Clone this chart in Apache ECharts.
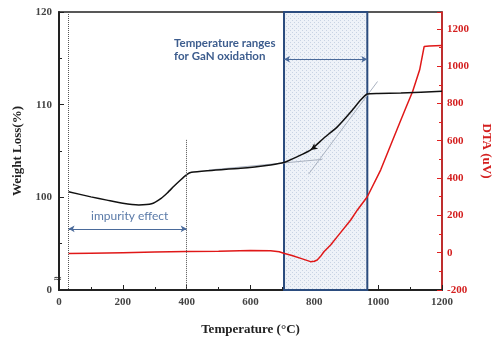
<!DOCTYPE html>
<html><head><meta charset="utf-8">
<script src="https://cdn.jsdelivr.net/npm/echarts@6/dist/echarts.min.js"></script>
<style>html,body{margin:0;padding:0;background:#fff}#c{width:496px;height:338px}</style>
</head><body><div id="c"></div>
<script>
// Weight loss curve (left axis, %; bottom of axis 90 is shown as "0" with a break)
const weightT = [30,100,150,200,250,290,320,340,360,380,400,415,464,569,663,704,747,788,830,872,914,945,966,1000,1071,1200];
const weightV = [100.6,100.05,99.7,99.35,99.18,99.3,99.9,100.5,101.2,101.85,102.45,102.7,102.88,103.13,103.5,103.75,104.4,105.1,106.4,107.6,109.2,110.5,111.15,111.2,111.25,111.45];
// DTA curve (right axis, uV)
const dtaT = [30,100,200,300,400,500,600,663,690,704,730,760,788,800,809,819,830,851,872,914,935,966,1008,1040,1066,1090,1108,1130,1144,1160,1200];
const dtaV = [-5,-3,0,3,6,8,12,11,5,-3,-15,-32,-48,-46,-39,-21,5,41,86,175,229,300,444,580,690,790,864,980,1105,1108,1110];
// tangent construction lines
const tangentBaseT = [470,825];
const tangentBaseV = [102.95,104.1];
const tangentSteepT = [782,998];
const tangentSteepV = [102.5,112.5];
// annotation ranges
const impurityRange = [30,400];
const oxidationRange = [705,966];
const xTicks = {min:0,max:1200,interval:200};
const leftTicks = {min:90,max:120,interval:10};
const rightTicks = {min:-200,max:1290,interval:200};

const zip = (a,b)=>a.map((t,i)=>[t,b[i]]);

// stippled fill for oxidation box
const pc = document.createElement('canvas');
pc.width = 4; pc.height = 4;
const g = pc.getContext('2d');
g.fillStyle = '#eef2f8'; g.fillRect(0,0,4,4);
g.fillStyle = '#c8d3e3'; g.fillRect(0,0,1,1); g.fillRect(2,2,1,1);

const serif = '"Liberation Serif","DejaVu Serif",serif';
const chart = echarts.init(document.getElementById('c'));
chart.setOption({
  animation:false,
  grid:{left:59,right:54,top:12,bottom:48,show:true,borderColor:'#222',borderWidth:1.5,
    containLabel:false,outerBoundsMode:'none'},
  xAxis:{type:'value',min:xTicks.min,max:xTicks.max,interval:xTicks.interval,
    name:'Temperature (°C)',nameLocation:'middle',nameGap:33,
    nameTextStyle:{fontFamily:serif,fontWeight:'bold',fontSize:13,color:'#222'},
    axisLine:{onZero:false,lineStyle:{color:'#222',width:2}},
    axisTick:{inside:true,length:5,lineStyle:{color:'#222'}},
    minorTick:{show:true,splitNumber:2,length:3,lineStyle:{color:'#222'}},
    splitLine:{show:false},
    axisLabel:{fontFamily:serif,fontWeight:'bold',fontSize:11,color:'#444',margin:7,formatter:v=>String(v)}},
  yAxis:[{type:'value',min:leftTicks.min,max:leftTicks.max,interval:leftTicks.interval,
    name:'Weight Loss(%)',nameLocation:'middle',nameGap:31,
    nameTextStyle:{fontFamily:serif,fontWeight:'bold',fontSize:13,color:'#222'},
    axisLine:{show:true,onZero:false,lineStyle:{color:'#222',width:2}},
    axisTick:{inside:true,length:5,lineStyle:{color:'#222'}},
    minorTick:{show:true,splitNumber:2,length:3,lineStyle:{color:'#222'}},
    splitLine:{show:false},
    axisLabel:{fontFamily:serif,fontWeight:'bold',fontSize:11,color:'#444',margin:7,
      formatter:v=>v===leftTicks.min?'0':String(v)}},
   {type:'value',position:'right',min:rightTicks.min,max:rightTicks.max,interval:rightTicks.interval,
    name:'DTA (uV)',nameLocation:'middle',nameGap:37,nameRotate:-90,
    nameTextStyle:{fontFamily:serif,fontWeight:'bold',fontSize:13,color:'#d42020'},
    axisLine:{show:true,onZero:false,lineStyle:{color:'#e02020',width:1.5}},
    axisTick:{inside:true,length:5,lineStyle:{color:'#e02020'}},
    minorTick:{show:true,splitNumber:2,length:3,lineStyle:{color:'#e02020'}},
    splitLine:{show:false},
    axisLabel:{fontFamily:serif,fontWeight:'bold',fontSize:11,color:'#d42020',margin:5,showMaxLabel:false,
      formatter:v=>String(v)}}],
  series:[
    {type:'line',name:'box',data:[],yAxisIndex:0,silent:true,
     markArea:{silent:true,itemStyle:{color:{image:pc,repeat:'repeat'},borderColor:'#2b4c7e',borderWidth:2},
       data:[[{xAxis:oxidationRange[0]},{xAxis:oxidationRange[1]}]]}},
    {type:'line',name:'guides',data:[],yAxisIndex:0,silent:true,
     markLine:{silent:true,symbol:'none',label:{show:false},
       lineStyle:{color:'#555',type:'dotted',width:1},
       data:[[{coord:[impurityRange[0],120]},{coord:[impurityRange[0],90]}],
             [{coord:[impurityRange[1],106.2]},{coord:[impurityRange[1],90]}]]}},
    {type:'line',name:'arrows',data:[],yAxisIndex:0,silent:true,
     markLine:{silent:true,symbol:['arrow','arrow'],symbolSize:[5,6],label:{show:false},
       lineStyle:{color:'#4a6a9a',type:'solid',width:1},
       data:[[{coord:[impurityRange[0],96.6]},{coord:[impurityRange[1],96.6]}],
             [{coord:[oxidationRange[0],114.9]},{coord:[oxidationRange[1],114.9]}]]}},
    {type:'line',data:zip(tangentBaseT,tangentBaseV),yAxisIndex:0,symbol:'none',
     lineStyle:{color:'#aab2c0',width:1}},
    {type:'line',data:zip(tangentSteepT,tangentSteepV),yAxisIndex:0,symbol:'none',
     lineStyle:{color:'#aab2c0',width:1}},
    {type:'line',name:'DTA',data:zip(dtaT,dtaV),yAxisIndex:1,symbol:'none',
     lineStyle:{color:'#e01818',width:1.5}},
    {type:'line',name:'Weight',data:zip(weightT,weightV),yAxisIndex:0,symbol:'none',smooth:0.15,
     lineStyle:{color:'#111',width:1.5},
     markPoint:{silent:true,symbol:'arrow',symbolSize:[5,7],symbolRotate:125,label:{show:false},
       itemStyle:{color:'#111'},data:[{coord:[788,105.1]}]}}
  ],
  graphic:[
    {type:'text',left:174,top:37,style:{text:'Temperature ranges\nfor GaN oxidation',align:'center',
      x:52,fontFamily:'Lato',fontWeight:'bold',fontSize:11.5,lineHeight:13,fill:'#3d5d8e'}},
    {type:'text',left:91,top:210,style:{text:'impurity effect',fontFamily:'Lato',fontSize:12,fill:'#5a7aa8'}},
    {type:'text',left:53,top:274,style:{text:'≈',fontFamily:'DejaVu Sans',fontSize:11,fill:'#333'}}
  ]
});
</script></body></html>
